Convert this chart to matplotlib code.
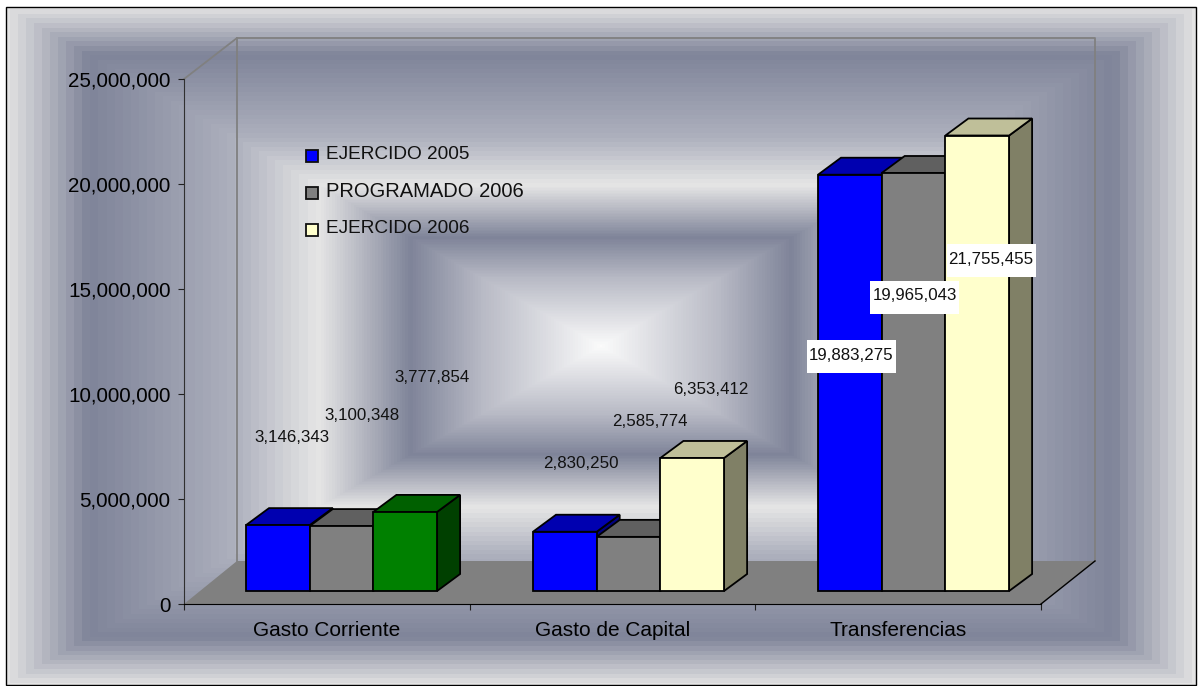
import numpy as np
import matplotlib
matplotlib.use("Agg")
import matplotlib.pyplot as plt
from matplotlib.patches import Polygon, Rectangle

plt.rcParams["font.family"] = ["Liberation Sans", "DejaVu Sans"]

# Data
categories = ["Gasto Corriente", "Gasto de Capital", "Transferencias"]
series_names = ["EJERCIDO 2005", "PROGRAMADO 2006", "EJERCIDO 2006"]
ejercido_2005 = [3146343, 2830250, 19883275]
programado_2006 = [3100348, 2585774, 19965043]
ejercido_2006 = [3777854, 6353412, 21755455]
y_ticks = [0, 5000000, 10000000, 15000000, 20000000, 25000000]

# (front, top, side) colours
BLUE = ("#0000ff", "#0000b0", "#000080")
GREY = ("#808080", "#606060", "#505050")
YELLOW = ("#ffffcc", "#bfbf99", "#808066")
GREEN = ("#008000", "#006000", "#004000")

W, H = 1198, 686
fig = plt.figure(figsize=(W / 100, H / 100), dpi=100, facecolor="white")


def px_axes(zorder):
    a = fig.add_axes([0, 0, 1, 1], zorder=zorder)
    a.set_xlim(0, W)
    a.set_ylim(H, 0)
    a.axis("off")
    a.patch.set_alpha(0)
    return a


bg = px_axes(0)
top = px_axes(2)

# --- rectangular path gradient behind the chart ---
x0, x1, y0, y1 = 6, 1196, 7, 685
cx, cy = 601, 346
xs, ys = np.meshgrid(np.arange(x0, x1) + 0.5, np.arange(y0, y1) + 0.5)
t = np.maximum(np.abs(xs - cx) / (cx - x0), np.abs(ys - cy) / (cy - y0))
t = np.clip(t, 0, 1)
stops = [0.0, 0.2, 0.32, 0.475, 0.617, 0.86, 1.0]
stop_cols = np.array([
    [0xfb, 0xfb, 0xfb],
    [0xb8, 0xba, 0xc5],
    [0x7f, 0x84, 0x99],
    [0xe6, 0xe6, 0xe6],
    [0xad, 0xb0, 0xbd],
    [0x7f, 0x84, 0x99],
    [0xe4, 0xe4, 0xe4],
], dtype=float)
# coarse banding only shows in the outer part of the original
t = np.where(t < 0.475, np.round(t * 220) / 220, np.round(t * 74) / 74)
img = np.dstack([np.interp(t, stops, stop_cols[:, i]) for i in range(3)]) / 255
bg.imshow(img, extent=(x0, x1, y1, y0), aspect="auto", interpolation="nearest", zorder=0)
bg.set_xlim(0, W)
bg.set_ylim(H, 0)
bg.add_patch(Rectangle((x0, y0), x1 - x0, y1 - y0, fill=False, ec="black", lw=1.0, zorder=5))

# walls and floor
wall = "#808080"
bg.add_patch(Polygon([(184, 604), (237, 561), (1095, 561), (1041, 604)], fc=wall, ec="none", zorder=1))
bg.plot([184, 237, 1095, 1095], [79, 38, 38, 561], color=wall, lw=1.3, zorder=2)
bg.plot([237, 237], [38, 561], color=wall, lw=1.3, zorder=2)
bg.plot([1095, 1041], [561, 604], color="black", lw=1.0, zorder=3)

# --- main axes ---
ax_l, ax_r, ax_t, ax_b = 184, 1041, 79, 604
ax = fig.add_axes([ax_l / W, 1 - ax_b / H, (ax_r - ax_l) / W, (ax_b - ax_t) / H], zorder=1)
ax.patch.set_alpha(0)
ax.set_xlim(0, 3)
ax.set_ylim(0, 25000000)
for s in ("top", "right"):
    ax.spines[s].set_visible(False)
ax.spines["left"].set_color("#303030")
ax.spines["bottom"].set_color("black")
ax.set_yticks(y_ticks)
ax.set_yticklabels([f"{v:,}" for v in y_ticks], fontsize=14.9)
ax.set_xticks([0, 1, 2, 3])
ax.set_xticklabels([])
ax.set_xticks([0.5, 1.5, 2.5], minor=True)
ax.set_xticklabels(categories, minor=True, fontsize=15)
ax.tick_params(axis="both", which="major", length=4.3, width=0.8, color="#202020")
ax.tick_params(axis="y", which="major", pad=5.5)
ax.tick_params(axis="x", which="minor", length=0, pad=12)

# px -> data scale
sx = 3 / (ax_r - ax_l)
sy = 25000000 / (ax_b - ax_t)
bar_w = 63.7 * sx
dx = 23 * sx
dy = 17 * sy
base = 13 * sy
bar_scale = 0.997  # bars sit a touch short of the gridded scale in the original
group_start = [62 * sx, 349 * sx, 634 * sx]


def draw_bar(left, value, cols):
    right = left + bar_w
    height = value * bar_scale
    top_y = base + height
    kw = dict(ec="black", lw=1.3, joinstyle="miter", clip_on=False)
    ax.add_patch(Polygon([(right, base), (right + dx, base + dy), (right + dx, top_y + dy), (right, top_y)], fc=cols[2], **kw))
    ax.add_patch(Polygon([(left, top_y), (left + dx, top_y + dy), (right + dx, top_y + dy), (right, top_y)], fc=cols[1], **kw))
    ax.add_patch(Rectangle((left, base), bar_w, height, fc=cols[0], **kw))


for i in range(len(categories)):
    third = GREEN if i == 0 else YELLOW
    draw_bar(group_start[i], ejercido_2005[i], BLUE)
    draw_bar(group_start[i] + bar_w, programado_2006[i], GREY)
    draw_bar(group_start[i] + 2 * bar_w, ejercido_2006[i], third)

# --- data labels, placed by hand in the original ---
label_values = ejercido_2005[:2] + programado_2006[:2] + ejercido_2006[:2]
label_pos = [(292, 438), (580.5, 463), (362, 415), (650, 421), (432, 378), (711, 390)]
for v, (lx, ly) in zip(label_values, label_pos):
    top.text(lx, ly, f"{v:,}", ha="center", va="center", fontsize=12.2, color="#111111")

boxed_values = [ejercido_2005[2], programado_2006[2], ejercido_2006[2]]
boxed_pos = [(851.5, 356.5), (914.5, 297.5), (991, 260.5)]
for v, (lx, ly) in zip(boxed_values, boxed_pos):
    top.add_patch(Rectangle((lx - 44.5, ly - 16.5), 89, 33, fc="white", ec="none"))
    top.text(lx, ly - 1.5, f"{v:,}", ha="center", va="center", fontsize=12.2, color="#111111")

# --- legend ---
legend_y = [155, 192, 229]
legend_cols = [BLUE, GREY, YELLOW]
legend_sizes = [13.7, 14.5, 13.7]
for name, ly, cols, fs in zip(series_names, legend_y, legend_cols, legend_sizes):
    top.add_patch(Rectangle((305.5, ly - 5.5), 12, 12, fc=cols[0], ec="#101010", lw=1.3))
    top.text(326, ly - 0.5, name, ha="left", va="center", fontsize=fs, color="#111111")

fig.savefig("out.png", dpi=100, facecolor="white")
